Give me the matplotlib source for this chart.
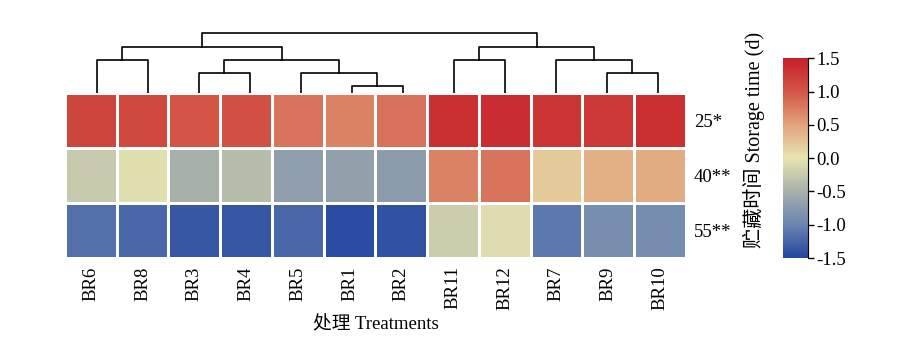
import matplotlib.pyplot as plt
import numpy as np
from matplotlib.colors import LinearSegmentedColormap

plt.rcParams['font.family'] = ['Liberation Serif', 'Noto Sans CJK SC']
plt.rcParams['axes.unicode_minus'] = False

treatments = ['BR6', 'BR8', 'BR3', 'BR4', 'BR5', 'BR1', 'BR2',
              'BR11', 'BR12', 'BR7', 'BR9', 'BR10']
times = ['25*', '40**', '55**']

row_25 = [1.15, 1.12, 1.00, 1.05, 0.80, 0.72, 0.82, 1.35, 1.38, 1.30, 1.27, 1.35]
row_40 = [-0.25, -0.05, -0.50, -0.38, -0.70, -0.67, -0.72, 0.72, 0.80, 0.22, 0.42, 0.44]
row_55 = [-1.15, -1.22, -1.35, -1.37, -1.22, -1.45, -1.40, -0.22, -0.08, -1.10, -0.88, -0.90]

# dendrogram merges: (left, right, height); leaves are indices into treatments
merges = [
    (5, 6, 7),        # BR1 + BR2
    (4, 12, 20),      # BR5 + (BR1,BR2)
    (2, 3, 20),       # BR3 + BR4
    (14, 13, 33.4),   # (BR3,BR4) + (BR5,BR1,BR2)
    (0, 1, 33.4),     # BR6 + BR8
    (16, 15, 46),     # (BR6,BR8) + rest
    (10, 11, 20),     # BR9 + BR10
    (9, 18, 33.4),    # BR7 + (BR9,BR10)
    (7, 8, 33.4),     # BR11 + BR12
    (20, 19, 46),     # (BR11,BR12) + (BR7,BR9,BR10)
    (17, 21, 60),     # top
]

data = np.array([row_25, row_40, row_55])

cmap = LinearSegmentedColormap.from_list('storage', [
    (0.0, '#2346a0'), (0.167, '#6a84b0'), (0.333, '#a8b0aa'),
    (0.5, '#e6e5b0'), (0.667, '#e2a47c'), (0.833, '#d25646'),
    (1.0, '#c7202a')])

fig = plt.figure(figsize=(9.21, 3.57), dpi=100)

ax = fig.add_axes([0.0706, 0.277, 0.674, 0.462])
mesh = ax.pcolormesh(data, cmap=cmap, vmin=-1.5, vmax=1.5,
                     edgecolors='white', linewidth=0.8)
ax.set_xlim(0, len(treatments))
ax.set_ylim(len(times), 0)
ax.set_xticks(np.arange(len(treatments)) + 0.5)
ax.set_xticklabels(treatments, rotation=90, fontsize=13.5)
ax.set_yticks(np.arange(len(times)) + 0.5)
ax.set_yticklabels(times, fontsize=13.5)
ax.yaxis.tick_right()
ax.tick_params(length=0, pad=6)
for s in ax.spines.values():
    s.set_visible(False)
ax.set_xlabel('处理 Treatments', fontsize=13.5, labelpad=4)

# dendrogram (leaves slightly narrower than the heatmap, as in the original)
dax = fig.add_axes([0.0776, 0.739, 0.6645, 0.176])
pos = {i: i + 0.5 for i in range(len(treatments))}
hgt = {i: 0 for i in range(len(treatments))}
node = len(treatments)
for a, b, h in merges:
    xa, xb = pos[a], pos[b]
    dax.plot([xa, xa, xb, xb], [hgt[a], h, h, hgt[b]], color='black', lw=1.2)
    pos[node] = (xa + xb) / 2
    hgt[node] = h
    node += 1
dax.set_xlim(0, len(treatments))
dax.set_ylim(0, 63)
dax.axis('off')

# colorbar
cax = fig.add_axes([0.850, 0.277, 0.027, 0.56])
cb = fig.colorbar(mesh, cax=cax, ticks=[-1.5, -1.0, -0.5, 0.0, 0.5, 1.0, 1.5])
cb.ax.set_yticklabels(['-1.5', '-1.0', '-0.5', '0.0', '0.5', '1.0', '1.5'], fontsize=13.5)
cb.outline.set_visible(False)
cb.ax.spines['right'].set_visible(True)
cb.ax.tick_params(length=4, width=1, pad=2)

fig.text(0.819, 0.608, '贮藏时间 Storage time (d)', rotation=90,
         ha='center', va='center', fontsize=14.5)

fig.savefig('out.png', dpi=100)
